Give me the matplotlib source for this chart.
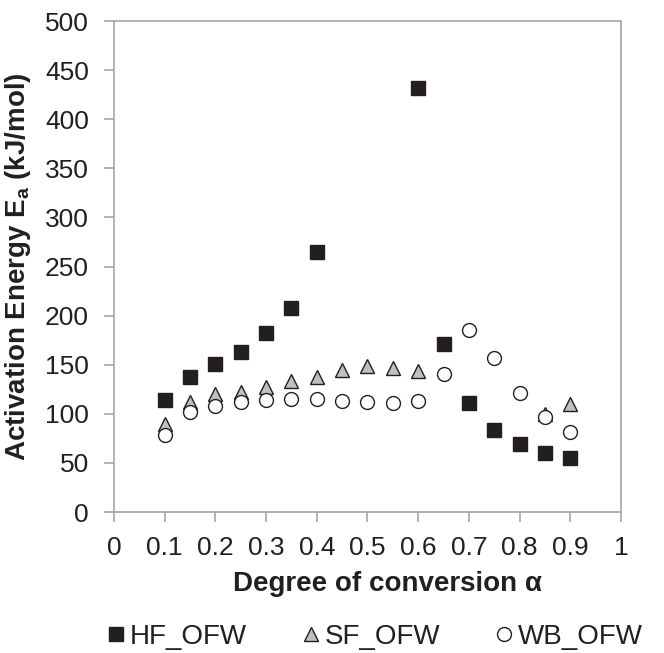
import numpy as np
import matplotlib
matplotlib.use('Agg')
from matplotlib import pyplot as plt

plt.rcParams['font.family'] = ['Liberation Sans', 'DejaVu Sans']

# Activation energy vs degree of conversion
alpha_hf = [0.1, 0.15, 0.2, 0.25, 0.3, 0.35, 0.4, 0.6, 0.65, 0.7, 0.75, 0.8, 0.85, 0.9]
ea_hf = [114, 137, 151, 163, 182, 208, 265, 432, 171, 111, 84, 69, 60, 55]

alpha_sf = [0.1, 0.15, 0.2, 0.25, 0.3, 0.35, 0.4, 0.45, 0.5, 0.55, 0.6, 0.85, 0.9]
ea_sf = [90, 112, 120, 122, 127, 133, 138, 145, 149, 147, 144, 100, 110]

alpha_wb = [0.1, 0.15, 0.2, 0.25, 0.3, 0.35, 0.4, 0.45, 0.5, 0.55, 0.6,
            0.65, 0.7, 0.75, 0.8, 0.85, 0.9]
ea_wb = [78, 102, 108, 112, 114, 115, 115, 113, 112, 111, 113,
         141, 185, 157, 121, 97, 81]

xtick_labels = ['0', '0.1', '0.2', '0.3', '0.4', '0.5', '0.6', '0.7', '0.8', '0.9', '1']

text_col = '#231f20'
axis_col = '#a6a6a6'

fig = plt.figure(figsize=(6.64, 6.53), dpi=100)
ax = fig.add_axes([0.1717, 0.2159, 0.7635, 0.7519])

ax.plot(alpha_hf, ea_hf, 's', color='#231f20', markersize=10.3,
        markeredgecolor='#231f20', label='HF_OFW', zorder=3)
ax.plot(alpha_sf, ea_sf, '^', color='#bfbfbf', markersize=9.5,
        markeredgecolor='#231f20', markeredgewidth=1, label='SF_OFW', zorder=2)
ax.plot(alpha_wb, ea_wb, 'o', color='white', markersize=10,
        markeredgecolor='#231f20', markeredgewidth=1, label='WB_OFW', zorder=4)

ax.set_xlim(0, 1)
ax.set_ylim(0, 500)
ax.set_xticks(np.arange(0, 1.01, 0.1))
ax.set_xticklabels(xtick_labels)
ax.set_yticks(np.arange(0, 501, 50))

for s in ax.spines.values():
    s.set_color(axis_col)
    s.set_linewidth(1.2)
ax.tick_params(axis='both', colors=axis_col, labelcolor=text_col,
               labelsize=19, length=7, width=1.2, direction='out')
ax.tick_params(axis='x', pad=10)
ax.tick_params(axis='y', pad=11)

ax.set_xlabel('Degree of conversion α', fontsize=20, fontweight='bold',
              color=text_col, labelpad=8)
ax.xaxis.label.set_x(0.54)
ax.set_ylabel('Activation Energy E$_\\mathregular{a}$ (kJ/mol)', fontsize=20,
              fontweight='bold', color=text_col, labelpad=9)

fig.legend(loc='center', bbox_to_anchor=(0.565, 0.025), ncol=3, frameon=False,
           fontsize=20, markerscale=1.0, handlelength=0.6, handletextpad=0.2,
           columnspacing=2.0, labelcolor=text_col)

fig.savefig('out.png', dpi=100)
